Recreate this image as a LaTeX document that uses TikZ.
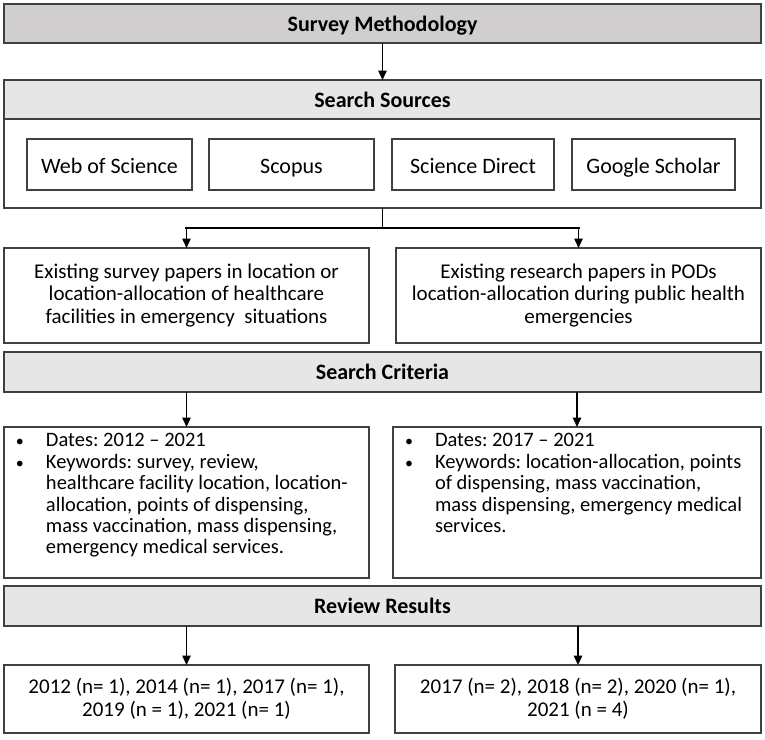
\documentclass[tikz,border=0pt]{standalone}
\usepackage{fontspec}
\setmainfont{Carlito}
\usetikzlibrary{arrows.meta,calc}
\definecolor{bord}{HTML}{404040}
\definecolor{hdrdark}{HTML}{D0CECE}
\definecolor{hdrlight}{HTML}{E7E6E6}
\newcommand{\bitem}[1]{\par\hangindent=31pt\hangafter=1\noindent\makebox[31pt][l]{\hspace*{1pt}{\fontsize{16}{16}\selectfont\textbullet}}#1\par}
\begin{document}
\begin{tikzpicture}[x=1pt,y=-1pt,
  box/.style={draw=bord, line width=1.4pt, fill=white, inner sep=0pt, outer sep=0pt, anchor=north west},
  hdr/.style={box, fill=hdrlight, text height=18pt, text depth=3pt, font=\fontsize{22}{26}\selectfont\bfseries},
  srcbox/.style={box, text height=19pt, text depth=2pt, font=\fontsize{22}{26}\selectfont},
  txtbox/.style={box, align=center, font=\fontsize{21}{22.5}\selectfont},
  arr/.style={draw=black, line width=1.5pt, -{Triangle[width=8.5pt,length=9.5pt]}},
  conn/.style={draw=black, line width=1.5pt}]
\useasboundingbox (0,0) rectangle (765,739);
\fill[white] (0,0) rectangle (765,739);

\node[hdr, fill=hdrdark, minimum width=757, minimum height=39] (sm) at (4,4) {Survey Methodology};
\node[box, minimum width=757, minimum height=89] (src) at (4,119) {};
\node[hdr, minimum width=757, minimum height=39] (ss) at (4,80) {Search Sources};
\node[srcbox, minimum width=165, minimum height=51] (wos) at (27,139) {Web of Science};
\node[srcbox, minimum width=165, minimum height=51] (sco) at (209,139) {Scopus};
\node[srcbox, minimum width=162, minimum height=51] (sd) at (392,139) {Science Direct};
\node[srcbox, minimum width=163, minimum height=51] (gs) at (572,139) {Google Scholar};

\node[txtbox, minimum width=365, minimum height=95] (surv) at (4,248)
  {Existing survey papers in location or\\location-allocation of healthcare\\facilities in emergency\ \ situations};
\node[txtbox, minimum width=365, minimum height=95] (res) at (396,248)
  {Existing research papers in PODs\\location-allocation during public health\\emergencies};

\node[hdr, minimum width=757, minimum height=40] (sc) at (4,352) {Search Criteria};

\node[box, minimum width=365, minimum height=151] (crit1) at (4,427)
  {\begin{minipage}[t][151pt][t]{365pt}
   \fontsize{20.5}{21.2}\selectfont\frenchspacing\raggedright\leftskip=11pt\parskip=1.5pt
   \bitem{\rule{0pt}{19pt}Dates: 2012 – 2021}
   \bitem{Keywords: survey, review,\newline healthcare facility location, location-\newline allocation, points of dispensing,\newline mass vaccination, mass dispensing,\newline emergency medical services.}
   \end{minipage}};
\node[box, minimum width=368, minimum height=151] (crit2) at (393,427)
  {\begin{minipage}[t][151pt][t]{368pt}
   \fontsize{20.5}{21.2}\selectfont\frenchspacing\raggedright\leftskip=11pt\parskip=1.5pt
   \bitem{\rule{0pt}{19pt}Dates: 2017 – 2021}
   \bitem{Keywords: location-allocation, points\newline of dispensing, mass vaccination,\newline mass dispensing, emergency medical\newline services.}
   \end{minipage}};

\node[hdr, minimum width=757, minimum height=40] (rr) at (4,586) {Review Results};

\node[txtbox, minimum width=365, minimum height=68] (out1) at (4,665)
  {2012 (n= 1), 2014 (n= 1), 2017 (n= 1),\\2019 (n = 1), 2021 (n= 1)};
\node[txtbox, minimum width=366, minimum height=68] (out2) at (395,665)
  {2017 (n= 2), 2018 (n= 2), 2020 (n= 1),\\2021 (n = 4)};

% connectors
\draw[arr] (sm.south) -- (ss.north);
\coordinate (bl) at ($(surv.north)+(0,-20)$);
\coordinate (bR) at (res.north |- bl);
\draw[conn] (src.south) -- (src.south |- bl);
\draw[draw=black, line width=2.6pt, line cap=rect] (bl) -- (bR);
\draw[arr] (bl) -- (surv.north);
\draw[arr] (bR) -- (res.north);
\draw[arr] (sc.south -| crit1.north) -- (crit1.north);
\draw[arr] (sc.south -| crit2.north) -- (crit2.north);
\draw[arr] (rr.south -| out1.north) -- (out1.north);
\draw[arr] (rr.south -| out2.north) -- (out2.north);
\end{tikzpicture}
\end{document}
